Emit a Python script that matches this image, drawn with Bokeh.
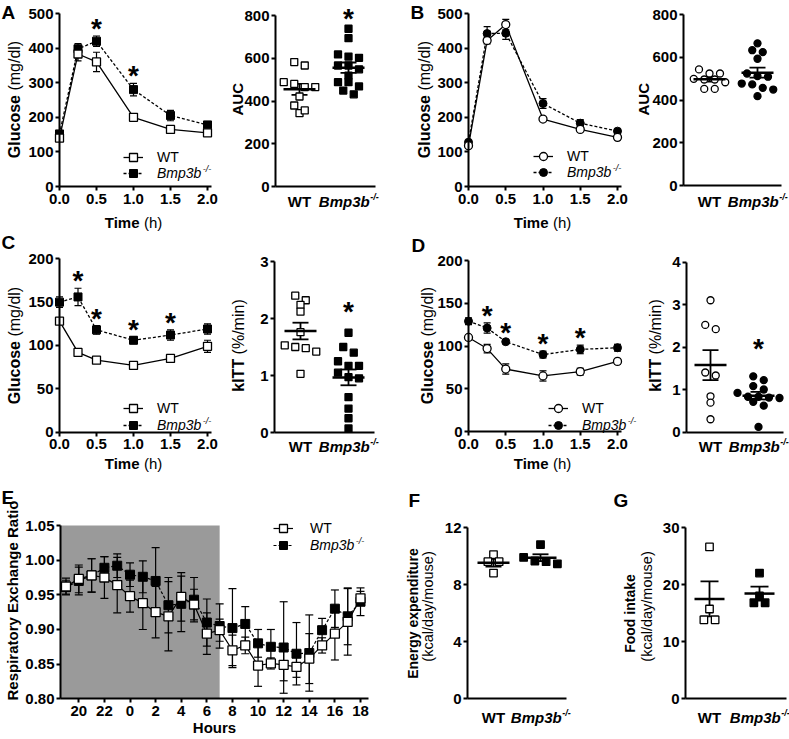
import numpy as np
from bokeh.plotting import figure
from bokeh.layouts import row, column
from bokeh.models import (ColumnDataSource, Whisker, TeeHead, Label, Legend, LegendItem,
                          FixedTicker, BoxAnnotation, Range1d, NumeralTickFormatter)
from bokeh.core.properties import value
from bokeh.embed import file_html
from bokeh.resources import INLINE

FONT = "Liberation Sans"

# ---------------- data ----------------
genotypes = ["WT", "Bmp3b"]
ko_sup = "-/-"
time_h = [0.0, 0.25, 0.5, 1.0, 1.5, 2.0]
time_ticks = [0.0, 0.5, 1.0, 1.5, 2.0]
time_tick_labels = ["0.0", "0.5", "1.0", "1.5", "2.0"]

# A: glucose tolerance
a_wt = [140, 383, 360, 200, 165, 155]
a_wt_sem = [6, 20, 28, 10, 6, 6]
a_ko = [152, 398, 420, 280, 205, 178]
a_ko_sem = [8, 15, 15, 18, 15, 8]
a_sig = [False, False, True, True, False, False]
a_auc_wt = [566, 582, 480, 488, 465, 465, 421, 379, 343, 356]
a_auc_ko = [738, 694, 618, 602, 608, 548, 566, 566, 519, 488, 488, 468, 449, 431]
a_auc_sig = True

# B
b_wt = [118, 422, 468, 195, 165, 142]
b_wt_sem = [4, 10, 15, 5, 5, 5]
b_ko = [128, 442, 443, 240, 183, 160]
b_ko_sem = [5, 20, 18, 14, 10, 6]
b_sig = [False] * 6
b_auc_wt = [524, 524, 543, 496, 496, 499, 483, 452, 452]
b_auc_ko = [665, 633, 624, 593, 512, 524, 509, 473, 477, 449, 457, 418]
b_auc_sig = False

# C: insulin tolerance
c_wt = [128, 92, 83, 77, 85, 99]
c_wt_sem = [3, 3, 2, 3, 4, 7]
c_ko = [150, 156, 118, 106, 112, 119]
c_ko_sem = [6, 10, 5, 4, 6, 6]
c_sig = [False, True, True, True, True, False]
c_kitt_wt = [2.40, 2.32, 2.24, 2.12, 1.76, 1.53, 1.50, 1.42, 1.48, 1.03]
c_kitt_ko = [1.75, 1.50, 1.40, 1.25, 1.17, 1.17, 1.05, 0.97, 0.95, 0.62, 0.42, 0.25, 0.07]
c_kitt_sig = True

# D
d_wt = [110, 97, 73, 65, 70, 82]
d_wt_sem = [3, 5, 6, 6, 4, 3]
d_ko = [129, 121, 105, 90, 96, 98]
d_ko_sem = [4, 6, 2, 4, 5, 4]
d_sig = [False, True, True, True, True, False]
d_kitt_wt = [3.10, 2.52, 2.42, 1.40, 1.33, 0.84, 0.69, 0.30]
d_kitt_ko = [1.31, 1.22, 1.08, 1.00, 0.92, 0.83, 0.80, 0.83, 0.81, 0.71, 0.62, 0.12]
d_kitt_sig = True

# E: respiratory exchange ratio
hours = [19, 20, 21, 22, 23, 0, 1, 2, 3, 4, 5, 6, 7, 8, 9, 10, 11, 12, 13, 14, 15, 16, 17, 18]
dark_end_hour = 7
hour_ticks = [20, 22, 0, 2, 4, 6, 8, 10, 12, 14, 16, 18]
rer_wt = [0.962, 0.973, 0.978, 0.975, 0.964, 0.948, 0.938, 0.925, 0.919, 0.947, 0.936, 0.894,
          0.899, 0.870, 0.877, 0.848, 0.851, 0.849, 0.846, 0.858, 0.877, 0.894, 0.911, 0.945]
rer_wt_sem = [0.012, 0.020, 0.024, 0.030, 0.040, 0.023, 0.038, 0.037, 0.050, 0.035, 0.022, 0.030,
              0.016, 0.022, 0.012, 0.030, 0.008, 0.023, 0.015, 0.036, 0.011, 0.038, 0.048, 0.010]
rer_ko = [0.961, 0.970, 0.978, 0.989, 0.992, 0.979, 0.976, 0.970, 0.935, 0.937, 0.943, 0.910,
          0.905, 0.902, 0.908, 0.880, 0.875, 0.874, 0.865, 0.866, 0.899, 0.930, 0.919, 0.940]
rer_ko_sem = [0.010, 0.020, 0.024, 0.016, 0.017, 0.017, 0.023, 0.048, 0.040, 0.040, 0.032, 0.034,
              0.032, 0.057, 0.025, 0.020, 0.025, 0.066, 0.045, 0.055, 0.017, 0.027, 0.041, 0.020]
rer_ticks = [0.80, 0.85, 0.90, 0.95, 1.00, 1.05]

# F, G
ee_wt = [10.1, 9.6, 9.6, 8.8]
ee_ko = [10.8, 9.9, 9.65, 9.6, 9.45]
ee_ticks = [0, 4, 8, 12]
food_wt = [26.6, 15.7, 13.8, 13.8]
food_ko = [22.0, 18.0, 16.8, 16.8]
food_ticks = [0, 10, 20, 30]

glu_ticks_ab = [0, 100, 200, 300, 400, 500]
glu_ticks_cd = [0, 50, 100, 150, 200]
auc_ticks = [0, 200, 400, 600, 800]
kitt_c_ticks = [0, 1, 2, 3]
kitt_d_ticks = [0, 1, 2, 3, 4]

# ---------------- helpers ----------------
W_REG = {' ': 278, '(': 333, ')': 333, '/': 278, '%': 889, '-': 333, 'a': 556, 'b': 556, 'c': 500,
         'd': 556, 'e': 556, 'g': 556, 'h': 556, 'i': 222, 'k': 500, 'l': 222, 'm': 833, 'n': 556,
         'o': 556, 'p': 556, 's': 500, 't': 278, 'u': 556, 'x': 500, 'y': 500, 'B': 667, '3': 556,
         'W': 944, 'T': 611}
W_BOLD = {' ': 278, '(': 333, ')': 333, '/': 278, '%': 889, '-': 333, 'a': 556, 'b': 611, 'c': 556,
          'd': 611, 'e': 556, 'g': 611, 'h': 611, 'i': 278, 'k': 556, 'l': 278, 'm': 889, 'n': 611,
          'o': 611, 'p': 611, 'r': 389, 's': 556, 't': 333, 'u': 611, 'x': 556, 'y': 556, 'A': 722,
          'B': 722, 'C': 722, 'E': 667, 'F': 611, 'G': 778, 'H': 722, 'I': 278, 'R': 722, 'T': 611,
          'W': 944, '3': 556}

TICK_SIZE = "15px"


def tw(s, size, bold):
    tab = W_BOLD if bold else W_REG
    return sum(tab.get(ch, 556) for ch in s) * size / 1000.0


def inv(pix, a, b):
    (v0, p0), (v1, p1) = a, b
    return v0 + (pix - p0) * (v1 - v0) / (p1 - p0)


def make_panel(col, xanch, yanch):
    """Figure whose frame fills the whole canvas; axes are pinned inside it."""
    L, T, W, H = col
    xr = (inv(L, *xanch), inv(L + W, *xanch))
    yr = (inv(T + H, *yanch), inv(T, *yanch))
    p = figure(width=W, height=H, x_range=Range1d(*xr), y_range=Range1d(*yr),
               output_backend="svg", toolbar_location=None,
               min_border_left=0, min_border_right=0, min_border_top=0, min_border_bottom=0)
    p.xgrid.grid_line_color = None
    p.ygrid.grid_line_color = None
    p.outline_line_color = None
    p.background_fill_color = "white"
    p.border_fill_color = "white"
    g = dict(fl=L, fr=L + W, ft=T, fb=T + H, xr=xr, yr=yr, xa=xanch, ya=yanch)
    return p, g


def px2x(g, px):
    return inv(px, *g['xa'])


def py2y(g, py):
    return inv(py, *g['ya'])


def x2px(g, x):
    (v0, p0), (v1, p1) = g['xa']
    return p0 + (x - v0) * (p1 - p0) / (v1 - v0)


def style_axes(p, x_at, y_at, xb, yb):
    for ax in (p.xaxis[0], p.yaxis[0]):
        ax.axis_line_width = 2
        ax.axis_line_color = "black"
        ax.major_tick_line_width = 2
        ax.major_tick_line_color = "black"
        ax.major_tick_out = 4
        ax.major_tick_in = 0
        ax.minor_tick_line_color = None
        ax.major_label_text_font = FONT
        ax.major_label_text_font_style = "bold"
        ax.major_label_text_font_size = TICK_SIZE
        ax.major_label_text_color = "black"
        ax.major_label_standoff = 2
    p.xaxis[0].major_label_standoff = 3
    p.xaxis.fixed_location = x_at
    p.yaxis.fixed_location = y_at
    p.xaxis.bounds = xb
    p.yaxis.bounds = yb


def page_label(p, g, text, px, py, size, style="bold", angle=0.0, align="left", baseline="middle"):
    p.add_layout(Label(x=px2x(g, px), y=py2y(g, py), text=text, angle=angle, text_align=align,
                       text_baseline=baseline, text_font=FONT, text_font_size=f"{size}px",
                       text_font_style=style, text_color="black"))


def title(p, g, parts, cx, cy, vertical):
    ws = [tw(t, s, "bold" in st) for t, s, st in parts]
    gaps = [0.0] + [tw(" ", s, False) for (_, s, _) in parts[1:]]
    total = sum(ws) + sum(gaps)
    pos = -total / 2
    for (t, s, st), w, gp in zip(parts, ws, gaps):
        pos += gp
        if vertical:
            page_label(p, g, t, cx, cy - pos, s, st, angle=np.pi / 2)
        else:
            page_label(p, g, t, cx + pos, cy, s, st)
        pos += w


def letter(p, g, ch, px, py):
    page_label(p, g, ch, px, py, 19, "bold")


def group_labels(p, g, py, size=15):
    page_label(p, g, genotypes[0], x2px(g, 1), py, size, "bold", align="center")
    w1 = tw(genotypes[1], size, True)
    w2 = tw(ko_sup, 9, True)
    start = x2px(g, 2) - (w1 + w2) / 2
    page_label(p, g, genotypes[1], start, py, size, "bold italic")
    page_label(p, g, ko_sup, start + w1 + 0.5, py - 5, 9, "bold italic")


def legends(p, g, wt_r, ko_r, glyph_left, text_left, y_wt, y_ko, size=14):
    gw, gh = 20, 20
    for lab, rs, yc, st in ((genotypes[0], wt_r, y_wt, "normal"), (genotypes[1], ko_r, y_ko, "italic")):
        leg = Legend(items=[LegendItem(label=lab, renderers=rs)],
                     location=(float(glyph_left - g['fl']), float(g['fb'] - yc - gh / 2)),
                     orientation="vertical", glyph_width=gw, glyph_height=gh, label_height=gh,
                     label_standoff=int(text_left - glyph_left - gw), padding=0, margin=0, spacing=0,
                     border_line_color=None, background_fill_alpha=0.0,
                     label_text_font=FONT, label_text_font_size=f"{size}px",
                     label_text_font_style=st, label_text_color="black")
        p.add_layout(leg)
    page_label(p, g, ko_sup, text_left + tw(genotypes[1], size, False) + 1, y_ko - 5, 9, "italic")


def whiskers(p, xs, ys, es, cap, lw):
    src = ColumnDataSource(dict(base=list(xs), upper=[y + e for y, e in zip(ys, es)],
                                lower=[y - e for y, e in zip(ys, es)]))
    p.add_layout(Whisker(source=src, base="base", upper="upper", lower="lower",
                         line_color="black", line_width=lw,
                         upper_head=TeeHead(size=cap, line_color="black", line_width=lw),
                         lower_head=TeeHead(size=cap, line_color="black", line_width=lw)))


STAR = 28


def stars(p, xs, ys, up_px):
    if xs:
        p.text(x=xs, y=ys, text=["*"] * len(xs), text_align="center", text_baseline="alphabetic",
               y_offset=-up_px + 4.5, text_font=value(FONT), text_font_style="bold",
               text_font_size=f"{STAR}px", text_color="black")


def swarm(vals, ppy, size, step=1.5, thresh=0.9):
    order = sorted(range(len(vals)), key=lambda i: -vals[i])
    rows = []
    for i in order:
        if rows and (vals[rows[-1][0]] - vals[i]) * ppy <= thresh * size:
            rows[-1].append(i)
        else:
            rows.append([i])
    offs = [0.0] * len(vals)
    s = step * size
    for r in rows:
        n = len(r)
        for k, i in enumerate(r):
            offs[i] = (k - (n - 1) / 2) * s
    return offs


def line_panel(col, xanch, yanch, yticks, wt, wt_sem, ko, ko_sem, sig, marker,
               let, let_pos, ytc, xtc, leg):
    p, g = make_panel(col, xanch, yanch)
    style_axes(p, 0, 0, (0, 2.05), (yticks[0], yticks[-1]))
    p.xaxis.ticker = FixedTicker(ticks=time_ticks, minor_ticks=[])
    p.xaxis.major_label_overrides = dict(zip(time_ticks, time_tick_labels))
    p.yaxis.ticker = FixedTicker(ticks=yticks, minor_ticks=[])
    whiskers(p, time_h, ko, ko_sem, 7, 1.2)
    whiskers(p, time_h, wt, wt_sem, 7, 1.2)
    rkl = p.line(time_h, ko, line_color="black", line_width=1.3, line_dash="3 2")
    rkm = p.scatter(time_h, ko, marker=marker, size=8, fill_color="black", line_color="black")
    rwl = p.line(time_h, wt, line_color="black", line_width=1.3)
    rwm = p.scatter(time_h, wt, marker=marker, size=8, fill_color="white", line_color="black",
                    line_width=1.3)
    sx = [t for t, s in zip(time_h, sig) if s]
    sy = [v + e for v, e, s in zip(ko, ko_sem, sig) if s]
    stars(p, sx, sy, 12)
    letter(p, g, let, *let_pos)
    title(p, g, [("Glucose", 16, "bold"), ("(mg/dl)", 16, "normal")], ytc[0], ytc[1], True)
    title(p, g, [("Time", 15, "bold"), ("(h)", 15, "normal")], xtc[0], xtc[1], False)
    legends(p, g, [rwl, rwm], [rkl, rkm], *leg)
    return p


def scatter_panel(col, xanch, yanch, axis_px, yticks, wt, ko, marker, size, sig, star_px,
                  tparts, lab_y, mean_len=32, cap=16):
    p, g = make_panel(col, xanch, yanch)
    x0 = px2x(g, axis_px[0])
    x1 = px2x(g, axis_px[1])
    style_axes(p, 0, x0, (x0, x1), (yticks[0], yticks[-1]))
    p.xaxis.ticker = FixedTicker(ticks=[], minor_ticks=[])
    p.yaxis.ticker = FixedTicker(ticks=yticks, minor_ticks=[])
    (v0, p0), (v1, p1) = xanch
    ppx = (p1 - p0) / (v1 - v0)
    (w0, q0), (w1, q1) = yanch
    ppy = abs((q1 - q0) / (w1 - w0))
    for i, (vals, fill) in enumerate(((wt, "white"), (ko, "black")), start=1):
        offs = swarm(vals, ppy, size)
        xs = [i + o / ppx for o in offs]
        p.scatter(xs, vals, marker=marker, size=size, fill_color=fill, line_color="black",
                  line_width=1.3)
    means = [float(np.mean(wt)), float(np.mean(ko))]
    sems = [float(np.std(wt, ddof=1) / np.sqrt(len(wt))), float(np.std(ko, ddof=1) / np.sqrt(len(ko)))]
    whiskers(p, [1, 2], means, sems, cap, 1.8)
    p.scatter([1, 2], means, marker="dash", size=mean_len, line_width=2.5, line_color="black")
    if sig:
        stars(p, [2], [max(ko)], star_px)
    for parts, (cx, cy) in tparts:
        title(p, g, parts, cx, cy, True)
    group_labels(p, g, lab_y)
    return p, g


# ---------------- row 1 ----------------
pA = line_panel((0, 0, 230, 232), ((0, 59), (2, 207)), ((0, 186), (500, 13)),
                glu_ticks_ab, a_wt, a_wt_sem, a_ko, a_ko_sem, a_sig, "square",
                "A", (1, 12), (14, 99), (133, 222), (123, 157, 157, 173))
pAa, _ = scatter_panel((230, 0, 170, 232), ((1, 299), (2, 348)), ((0, 186), (800, 15)), (275, 375),
                       auc_ticks, a_auc_wt, a_auc_ko, "square", 7, a_auc_sig, 15,
                       [([("AUC", 15, "bold")], (237, 100))], 201)
pB = line_panel((400, 0, 228, 232), ((0, 468), (2, 617)), ((0, 186), (500, 13)),
                glu_ticks_ab, b_wt, b_wt_sem, b_ko, b_ko_sem, b_sig, "circle",
                "B", (410, 12), (424, 99), (542, 222), (533, 567, 156, 172))
pBa, _ = scatter_panel((628, 0, 161, 232), ((1, 709), (2, 757)), ((0, 185), (800, 14)), (683, 781),
                       auc_ticks, b_auc_wt, b_auc_ko, "circle", 7, b_auc_sig, 15,
                       [([("AUC", 15, "bold")], (643, 100))], 201)

# ---------------- row 2 ----------------
pC = line_panel((0, 232, 230, 241), ((0, 59), (2, 207)), ((0, 431.6), (200, 258.3)),
                glu_ticks_cd, c_wt, c_wt_sem, c_ko, c_ko_sem, c_sig, "square",
                "C", (1, 242), (14, 345), (133, 463), (123, 157, 408, 425))
pCk, _ = scatter_panel((230, 232, 170, 241), ((1, 300), (2, 348)), ((0, 432), (3, 261)), (274, 374),
                       kitt_c_ticks, c_kitt_wt, c_kitt_ko, "square", 7, c_kitt_sig, 26,
                       [([("kITT", 16, "bold"), ("(%/min)", 16, "normal")], (238, 345))], 446)
pD = line_panel((400, 232, 238, 241), ((0, 468), (2, 617)), ((0, 431), (200, 260)),
                glu_ticks_cd, d_wt, d_wt_sem, d_ko, d_ko_sem, d_sig, "circle",
                "D", (411, 245), (427, 345), (542, 463), (548, 582, 408, 425))
pDk, _ = scatter_panel((638, 232, 151, 241), ((1, 710), (2, 758)), ((0, 431.5), (4, 261.5)), (686, 783),
                       kitt_d_ticks, d_kitt_wt, d_kitt_ko, "circle", 7, d_kitt_sig, 32,
                       [([("kITT", 16, "bold"), ("(%/min)", 16, "normal")], (655, 345))], 446)

# ---------------- row 3 ----------------
def unwrap(hs):
    out, off, prev = [], 0, None
    for h in hs:
        if prev is not None and h < prev:
            off += 24
        out.append(h + off)
        prev = h
    return out


t_data = unwrap(hours)
t_ticks = unwrap(hour_ticks)
t_dark_end = t_data[hours.index(dark_end_hour)]

pE, gE = make_panel((0, 473, 395, 266), ((20, 78.3), (42, 360)), ((0.80, 698.3), (1.05, 525)))
e_x0 = px2x(gE, 60)
e_x1 = px2x(gE, 368)
style_axes(pE, rer_ticks[0], e_x0, (e_x0, e_x1), (rer_ticks[0], rer_ticks[-1]))
pE.xaxis.ticker = FixedTicker(ticks=t_ticks, minor_ticks=[])
pE.xaxis.major_label_overrides = {t: str(h) for t, h in zip(t_ticks, hour_ticks)}
pE.yaxis.ticker = FixedTicker(ticks=rer_ticks, minor_ticks=[])
pE.yaxis.formatter = NumeralTickFormatter(format="0.00")
pE.add_layout(BoxAnnotation(left=e_x0, right=t_dark_end, bottom=rer_ticks[0], top=rer_ticks[-1],
                            fill_color="#9a9a9a", fill_alpha=1.0, line_color=None, level="underlay"))
whiskers(pE, t_data, rer_ko, rer_ko_sem, 8, 1.2)
whiskers(pE, t_data, rer_wt, rer_wt_sem, 8, 1.2)
eKl = pE.line(t_data, rer_ko, line_color="black", line_width=1.2, line_dash="3 2")
eKm = pE.scatter(t_data, rer_ko, marker="square", size=9, fill_color="black", line_color="black")
eWl = pE.line(t_data, rer_wt, line_color="black", line_width=1.2)
eWm = pE.scatter(t_data, rer_wt, marker="square", size=9, fill_color="white", line_color="black",
                 line_width=1.3)
letter(pE, gE, "E", 1, 497)
title(pE, gE, [("Respiratory Exchange Ratio", 15, "bold")], 12, 600, True)
title(pE, gE, [("Hours", 15, "bold")], 214, 727, False)
legends(pE, gE, [eWl, eWm], [eKl, eKm], 273, 310, 528, 545)

pF, gF = scatter_panel((395, 473, 210, 266), ((1, 493), (2, 540)), ((0, 698), (12, 527)), (467, 566),
                       ee_ticks, ee_wt, ee_ko, "square", 7.5, False, 0,
                       [([("Energy expenditure", 14, "bold")], (412, 613)),
                        ([("(kcal/day/mouse)", 14.5, "normal")], (427, 606))], 717)
letter(pF, gF, "F", 408, 500)

pG, gG = scatter_panel((605, 473, 184, 266), ((1, 709), (2, 759)), ((0, 698), (30, 527)), (685, 786),
                       food_ticks, food_wt, food_ko, "square", 7.5, False, 0,
                       [([("Food intake", 14, "bold")], (629, 613)),
                        ([("(kcal/day/mouse)", 14.5, "normal")], (646, 606))], 717, mean_len=30, cap=18)
letter(pG, gG, "G", 613, 500)

layout = column(row(pA, pAa, pB, pBa), row(pC, pCk, pD, pDk), row(pE, pF, pG))
open("out.html", "w").write(file_html(layout, INLINE))
